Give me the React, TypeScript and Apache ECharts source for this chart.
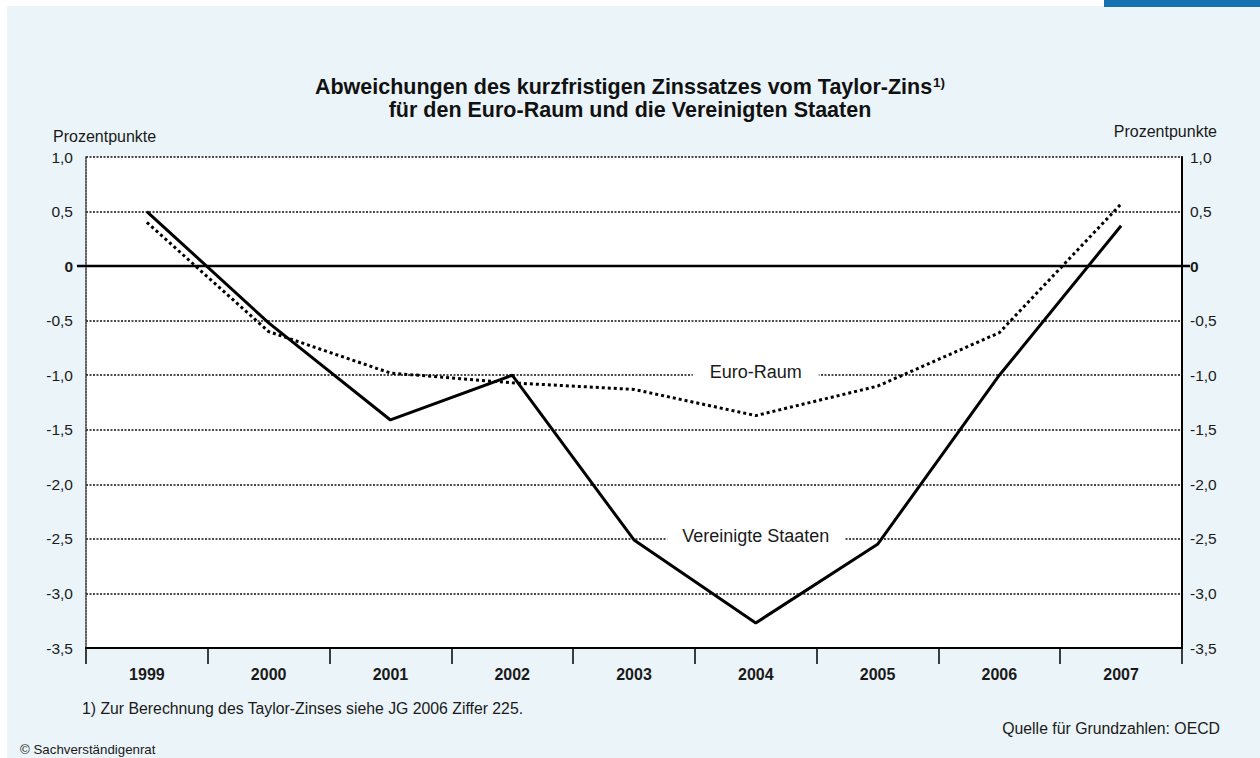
import React, { useEffect, useRef } from "react";
import * as echarts from "echarts";

const years = ["1999", "2000", "2001", "2002", "2003", "2004", "2005", "2006", "2007"];
const usValues = [0.5, -0.52, -1.41, -1.0, -2.51, -3.27, -2.55, -1.0, 0.37];
const euroValues = [0.4, -0.6, -0.98, -1.07, -1.13, -1.37, -1.1, -0.61, 0.57];
const yTicks = { min: -3.5, max: 1.0, interval: 0.5 };

const FONT = "'Liberation Sans', Arial, Helvetica, sans-serif";

const fmt = (v: number) => (Math.abs(v) < 1e-9 ? "{z|0}" : v.toFixed(1).replace(".", ","));

export default function App() {
  const ref = useRef<HTMLDivElement>(null);
  useEffect(() => {
    document.body.style.margin = "0";
    const chart = echarts.init(ref.current!, null, { renderer: "svg" });
    const yAxisCommon = {
      type: "value",
      min: yTicks.min,
      max: yTicks.max,
      interval: yTicks.interval,
      axisTick: { show: false },
      splitLine: { show: false },
      axisLabel: {
        formatter: fmt,
        color: "#1a1a1a",
        fontSize: 15.5,
        fontFamily: FONT,
        rich: { z: { fontWeight: "bold", fontSize: 15.5, fontFamily: FONT, color: "#1a1a1a" } },
      },
    };
    const option: any = {
      animation: false,
      backgroundColor: "#ffffff",
      textStyle: { fontFamily: FONT },
      title: {
        left: "center",
        top: 70,
        text: "{b|Abweichungen des kurzfristigen Zinssatzes vom Taylor-Zins}{s|1)}\n{b|für den Euro-Raum und die Vereinigten Staaten}",
        textStyle: {
          rich: {
            b: { fontSize: 21.5, fontWeight: "bold", fontFamily: FONT, color: "#111", lineHeight: 23 },
            s: { fontSize: 13.5, fontFamily: FONT, color: "#111", verticalAlign: "top", lineHeight: 23, padding: [0, 0, 10, 1] },
          },
        },
      },
      grid: {
        left: 86,
        right: 78,
        top: 157,
        bottom: 110,
        show: true,
        backgroundColor: "#ffffff",
        borderWidth: 0,
      },
      xAxis: {
        type: "category",
        data: years,
        boundaryGap: true,
        axisLine: { onZero: false, lineStyle: { color: "#000", width: 2 } },
        axisTick: { show: true, interval: 0, length: 16, lineStyle: { color: "#000", width: 1.5 } },
        axisLabel: { interval: 0, margin: 18, fontSize: 16, fontWeight: "bold", color: "#1a1a1a", fontFamily: FONT },
      },
      yAxis: [
        {
          ...yAxisCommon,
          position: "left",
          axisLine: { show: true, lineStyle: { color: "#333", width: 1.5, type: [2, 1] } },
          axisLabel: { ...yAxisCommon.axisLabel, margin: 13 },
          splitLine: { show: true, lineStyle: { color: "#111", width: 1.5, type: [2, 1.5] } },
        },
        {
          ...yAxisCommon,
          position: "right",
          axisLine: { show: true, lineStyle: { color: "#000", width: 2 } },
          axisLabel: { ...yAxisCommon.axisLabel, margin: 8 },
        },
      ],
      series: [
        {
          name: "Vereinigte Staaten",
          type: "line",
          data: usValues,
          symbol: "none",
          lineStyle: { color: "#000", width: 3, type: "solid" },
          z: 5,
        },
        {
          name: "Euro-Raum",
          type: "line",
          data: euroValues,
          symbol: "none",
          lineStyle: { color: "#000", width: 3, type: [3, 3] },
          z: 4,
        },
      ],
    };
    chart.setOption(option);

    const zero = chart.convertToPixel({ gridIndex: 0 }, [0, 0]) as number[];
    const euroLbl = chart.convertToPixel({ gridIndex: 0 }, [5, -0.97]) as number[];
    const usLbl = chart.convertToPixel({ gridIndex: 0 }, [5, -2.47]) as number[];

    chart.setOption({
      graphic: [
        { type: "rect", z: -10, shape: { x: 0, y: 0, width: 1260, height: 758 }, style: { fill: "#ffffff" }, silent: true },
        { type: "rect", z: -9, shape: { x: 7, y: 6, width: 1253, height: 752 }, style: { fill: "#ebf4f8" }, silent: true },
        { type: "rect", z: -8, shape: { x: 1104, y: 0, width: 156, height: 7 }, style: { fill: "#1572b0" }, silent: true },
        { type: "line", z: 3, shape: { x1: 77, y1: zero[1], x2: 1190, y2: zero[1] }, style: { stroke: "#000", lineWidth: 2.5 }, silent: true },
        {
          type: "text", z: 10, x: euroLbl[0], y: euroLbl[1],
          style: { text: "Euro-Raum", font: `18px ${FONT}`, fill: "#1a1a1a", align: "center", verticalAlign: "middle", backgroundColor: "#fff", padding: [2, 17] },
        },
        {
          type: "text", z: 10, x: usLbl[0], y: usLbl[1],
          style: { text: "Vereinigte Staaten", font: `18px ${FONT}`, fill: "#1a1a1a", align: "center", verticalAlign: "middle", backgroundColor: "#fff", padding: [2, 15] },
        },
        { type: "text", x: 53, y: 136, style: { text: "Prozentpunkte", font: `16px ${FONT}`, fill: "#1a1a1a", verticalAlign: "middle" } },
        { type: "text", x: 1217, y: 131, style: { text: "Prozentpunkte", font: `16px ${FONT}`, fill: "#1a1a1a", align: "right", verticalAlign: "middle" } },
        { type: "text", x: 82, y: 708, style: { text: "1) Zur Berechnung des Taylor-Zinses siehe JG 2006 Ziffer 225.", font: `15.8px ${FONT}`, fill: "#1a1a1a", verticalAlign: "middle" } },
        { type: "text", x: 1220, y: 728, style: { text: "Quelle für Grundzahlen: OECD", font: `15.8px ${FONT}`, fill: "#1a1a1a", align: "right", verticalAlign: "middle" } },
        { type: "text", x: 20, y: 749, style: { text: "© Sachverständigenrat", font: `13.3px ${FONT}`, fill: "#1a1a1a", verticalAlign: "middle" } },
      ],
    });
    return () => chart.dispose();
  }, []);
  return <div ref={ref} style={{ position: "fixed", left: 0, top: 0, width: 1260, height: 758 }} />;
}
